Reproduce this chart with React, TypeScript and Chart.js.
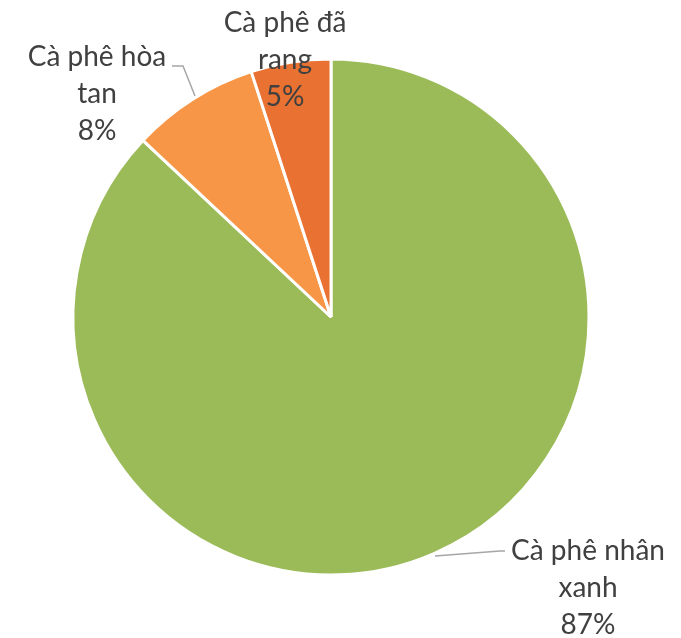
import React, { useEffect, useRef } from "react";
import { Chart, registerables } from "chart.js";

Chart.register(...registerables);

const categories = ["Cà phê nhân xanh", "Cà phê hòa tan", "Cà phê đã rang"];
const values = [87, 8, 5];
const labelLines = [["Cà phê nhân", "xanh", "87%"], ["Cà phê hòa", "tan", "8%"], ["Cà phê đã", "rang", "5%"]];
const colors = ["#9BBB59", "#F79646", "#E97132"];

const W = 681;
const H = 638;

const labelPlugin = {
  id: "outLabels",
  afterDatasetsDraw(chart: any) {
    const ctx = chart.ctx;
    const meta = chart.getDatasetMeta(0);
    const arc0 = meta.data[0];
    const cx = arc0.x;
    const cy = arc0.y;
    const placements = [
      { x: cx + 257, y: cy + 234, lead: [[cx + 104, cy + 239], [cx + 169, cy + 234], [cx + 174, cy + 234]] },
      { x: cx - 234, y: cy - 260, lead: [[cx - 136, cy - 221], [cx - 148, cy - 251], [cx - 159, cy - 251]] },
      { x: cx - 46, y: cy - 294, lead: null },
    ];
    ctx.save();
    ctx.font = "28px Lato, 'Open Sans', sans-serif";
    ctx.fillStyle = "#404040";
    ctx.textAlign = "center";
    ctx.textBaseline = "middle";
    placements.forEach((p, i) => {
      if (p.lead) {
        ctx.beginPath();
        ctx.strokeStyle = "#A6A6A6";
        ctx.lineWidth = 1.5;
        p.lead.forEach((pt: number[], k: number) => (k === 0 ? ctx.moveTo(pt[0], pt[1]) : ctx.lineTo(pt[0], pt[1])));
        ctx.stroke();
      }
      labelLines[i].forEach((t, k) => {
        ctx.fillText(t, p.x, p.y + k * 37);
      });
    });
    ctx.restore();
  },
};

export default function App() {
  const ref = useRef<HTMLCanvasElement>(null);
  useEffect(() => {
    document.body.style.margin = "0";
    document.body.style.overflow = "hidden";
    if (!ref.current) return;
    const chart = new Chart(ref.current, {
      type: "pie",
      data: {
        labels: categories,
        datasets: [
          {
            data: values,
            backgroundColor: colors,
            borderColor: "#FFFFFF",
            borderWidth: 3,
          },
        ],
      },
      options: {
        responsive: false,
        animation: false,
        layout: { padding: { left: 71.5, top: 57.5, right: 90.5, bottom: 61.5 } },
        plugins: {
          legend: { display: false },
          tooltip: { enabled: false },
          title: { display: false },
        },
      },
      plugins: [labelPlugin],
    });
    return () => chart.destroy();
  }, []);
  return (
    <div style={{ width: W, height: H }}>
      <canvas ref={ref} width={W} height={H} style={{ width: W, height: H, display: "block" }} />
    </div>
  );
}
